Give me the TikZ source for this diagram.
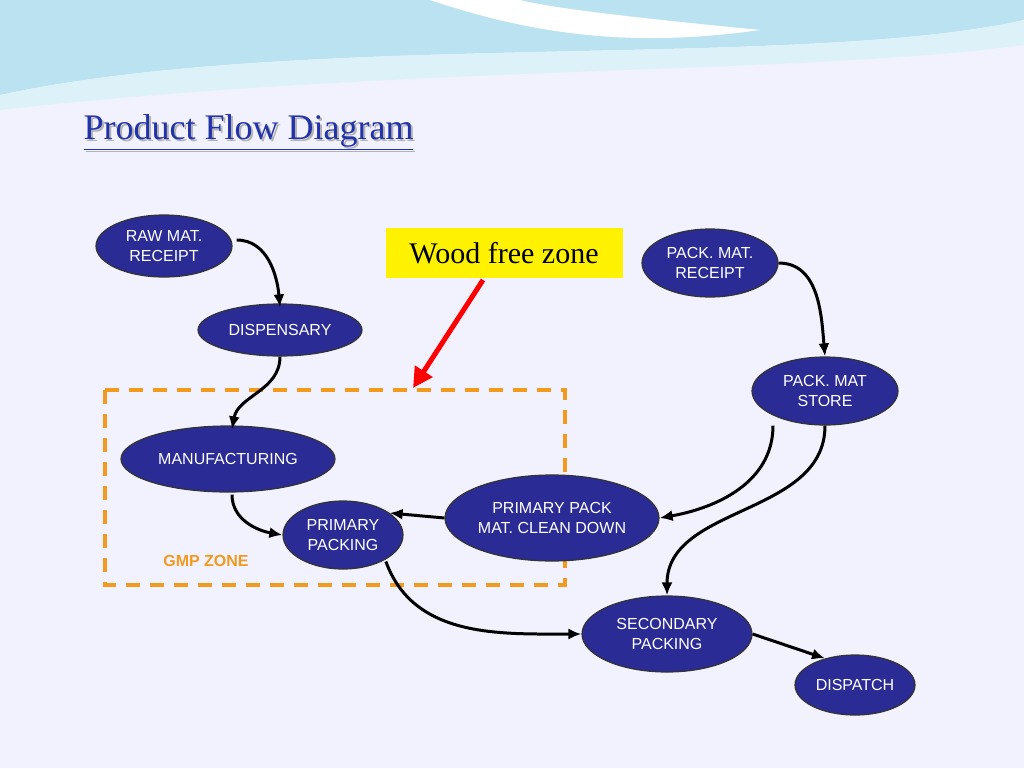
\documentclass[tikz,border=0pt]{standalone}
\usepackage{fontspec}
\setmainfont{Liberation Serif}
\newfontfamily\sansf{Liberation Sans}
\usetikzlibrary{shapes.geometric,arrows.meta}
\definecolor{stepfill}{HTML}{2B2B95}
\definecolor{titleblue}{HTML}{2233AA}
\definecolor{gmporange}{HTML}{F29A1E}
\definecolor{wave}{HTML}{8ECFE6}
\tikzset{
  procstep/.style = {ellipse, draw=black!80, line width=1.2pt, fill=stepfill, text=white,
                 font=\sansf\fontsize{16}{20}\selectfont, align=center, inner sep=0pt},
  flow/.style = {-{Latex[length=13pt,width=11pt]}, line width=3pt, black}
}
\begin{document}
\begin{tikzpicture}[x=1pt,y=-1pt]
  \useasboundingbox (0,0) rectangle (1024,768);
  \fill[white!95!blue] (0,0) rectangle (1024,768);
  % header waves
  \fill[wave!60] (0,0) -- (1024,0) -- (1024,20) .. controls (800,70) and (300,30) .. (0,95) -- cycle;
  \fill[wave!30] (0,95) .. controls (300,30) and (800,70) .. (1024,20) -- (1024,45) .. controls (800,75) and (400,65) .. (0,110) -- cycle;
  \fill[white] (430,0) .. controls (520,30) and (620,50) .. (760,30) .. controls (660,20) and (560,10) .. (520,0) -- cycle;
  % title
  \node[anchor=west, text=black!30, font=\fontsize{36}{40}\selectfont] at (82,134) {\underline{Product Flow Diagram}};
  \node[anchor=west, text=titleblue, font=\fontsize{36}{40}\selectfont] (title) at (80,132) {\underline{Product Flow Diagram}};
  % zone
  \draw[gmporange, line width=3.5pt, dash pattern=on 14pt off 10pt] (105,390) rectangle (565,585);
  \node[text=gmporange, font=\sansf\bfseries\fontsize{16}{18}\selectfont] (gmp) at (206,561) {GMP ZONE};
  \node[fill=yellow, minimum width=237pt, minimum height=50pt, font=\fontsize{30}{34}\selectfont] (wood) at (504,253) {Wood free zone};
  \coordinate (zonetop) at (413,388);
  \draw[red, line width=5pt, -{Triangle[length=20pt,width=20pt]}] (483,280) -- (zonetop);
  % steps
  \node[procstep, minimum width=136pt, minimum height=62pt] (raw) at (164,246) {RAW MAT.\\RECEIPT};
  \node[procstep, minimum width=164pt, minimum height=52pt] (disp) at (280,330) {DISPENSARY};
  \node[procstep, minimum width=214pt, minimum height=66pt] (manu) at (228,459) {MANUFACTURING};
  \node[procstep, minimum width=120pt, minimum height=68pt] (prim) at (343,535) {PRIMARY\\PACKING};
  \node[procstep, minimum width=214pt, minimum height=86pt] (clean) at (552,518) {PRIMARY PACK\\MAT. CLEAN DOWN};
  \node[procstep, minimum width=136pt, minimum height=68pt] (pmrec) at (710,263) {PACK. MAT.\\RECEIPT};
  \node[procstep, minimum width=146pt, minimum height=68pt] (store) at (825,391) {PACK. MAT\\STORE};
  \node[procstep, minimum width=170pt, minimum height=76pt] (sec) at (667,634) {SECONDARY\\PACKING};
  \node[procstep, minimum width=120pt, minimum height=60pt] (dispatch) at (855,685) {DISPATCH};
  % flows
  \draw[flow] (raw.east) ++(4,-6) to[out=0, in=95] ([yshift=-4pt]disp.north);
  \draw[flow] (disp.south) to[out=-90, in=80] ([xshift=4pt,yshift=-4pt]manu.north);
  \draw[flow] ([xshift=4pt,yshift=-2pt]manu.south) to[out=-90, in=170] (prim.west);
  \draw[flow] (clean.west) -- ([xshift=-14pt,yshift=22pt]prim.east);
  \draw[flow] ([yshift=-2pt]prim.south east) to[out=-70, in=180] (sec.west);
  \draw[flow] (pmrec.east) to[out=0, in=95] (store.north);
  \draw[flow] ([xshift=-52pt]store.south) to[out=-90, in=10] (clean.east);
  \draw[flow] (store.south) to[out=-90, in=90] (sec.north);
  \draw[flow] (sec.east) -- ([xshift=-30pt,yshift=-4pt]dispatch.north);
\end{tikzpicture}
\end{document}
